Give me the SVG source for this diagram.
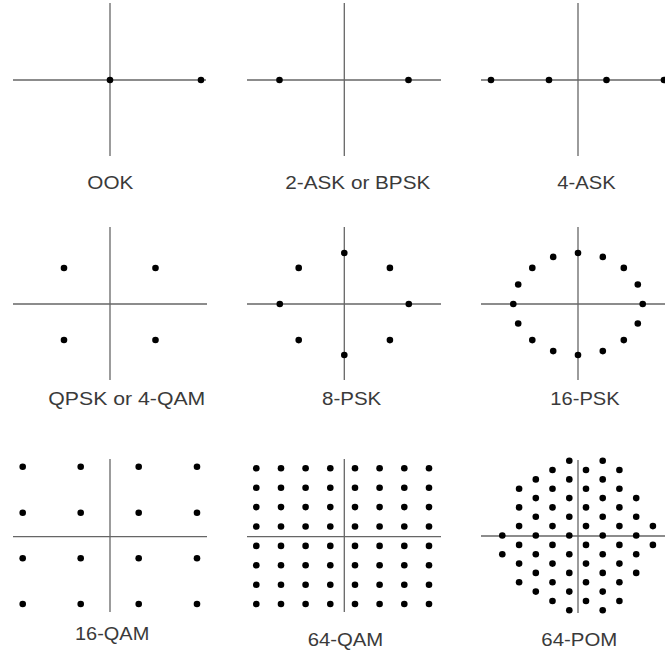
<svg xmlns="http://www.w3.org/2000/svg" xmlns:xlink="http://www.w3.org/1999/xlink" width="665" height="656" viewBox="0 0 665 656">
<style>
.ax{stroke:#666;stroke-width:1.3;fill:none}
.lb{font-family:"Liberation Sans",Arial,sans-serif;font-size:18px;fill:#3a3a3a}
</style>
<defs><circle id="d" r="3.3" fill="#000"/></defs>
<rect width="665" height="656" fill="#fff"/>
<g id="ook">
<line class="ax" x1="13" y1="80" x2="206" y2="80"/><line class="ax" x1="110" y1="3" x2="110" y2="156"/>
<use href="#d" x="110" y="80"/><use href="#d" x="201" y="80"/>
<text class="lb" x="87.3" y="189" textLength="46" lengthAdjust="spacingAndGlyphs">OOK</text>
</g>
<g id="ask2">
<line class="ax" x1="247" y1="80" x2="441" y2="80"/><line class="ax" x1="344.3" y1="3" x2="344.3" y2="156"/>
<use href="#d" x="279.5" y="80"/><use href="#d" x="408.5" y="80"/>
<text class="lb" x="285.3" y="188.5" textLength="145" lengthAdjust="spacingAndGlyphs">2-ASK or BPSK</text>
</g>
<g id="ask4">
<line class="ax" x1="481" y1="80" x2="665" y2="80"/><line class="ax" x1="578" y1="3" x2="578" y2="156"/>
<use href="#d" x="491" y="80"/><use href="#d" x="549" y="80"/><use href="#d" x="606.5" y="80"/><use href="#d" x="664" y="80"/>
<text class="lb" x="557.3" y="188.5" textLength="58.4" lengthAdjust="spacingAndGlyphs">4-ASK</text>
</g>
<g id="qpsk">
<line class="ax" x1="13" y1="304" x2="207" y2="304"/><line class="ax" x1="110" y1="227" x2="110" y2="380"/>
<use href="#d" x="64" y="268"/><use href="#d" x="155.5" y="268"/><use href="#d" x="64" y="340"/><use href="#d" x="155.5" y="340"/>
<text class="lb" x="48.3" y="404.5" textLength="157" lengthAdjust="spacingAndGlyphs">QPSK or 4-QAM</text>
</g>
<g id="psk8">
<line class="ax" x1="247" y1="304" x2="441" y2="304"/><line class="ax" x1="344.3" y1="227" x2="344.3" y2="380"/>
<use href="#d" x="408.8" y="304"/><use href="#d" x="389.9" y="267.9"/><use href="#d" x="344.3" y="253"/><use href="#d" x="298.7" y="267.9"/>
<use href="#d" x="279.8" y="304"/><use href="#d" x="298.7" y="340.1"/><use href="#d" x="344.3" y="355"/><use href="#d" x="389.9" y="340.1"/>
<text class="lb" x="322" y="405" textLength="59.3" lengthAdjust="spacingAndGlyphs">8-PSK</text>
</g>
<g id="psk16">
<line class="ax" x1="481" y1="304" x2="665" y2="304"/><line class="ax" x1="578" y1="227" x2="578" y2="380"/>
<use href="#d" x="642.7" y="304"/><use href="#d" x="637.8" y="284.5"/><use href="#d" x="623.8" y="267.9"/><use href="#d" x="602.8" y="256.9"/>
<use href="#d" x="578" y="253"/><use href="#d" x="553.2" y="256.9"/><use href="#d" x="532.3" y="267.9"/><use href="#d" x="518.2" y="284.5"/>
<use href="#d" x="513.3" y="304"/><use href="#d" x="518.2" y="323.5"/><use href="#d" x="532.3" y="340.1"/><use href="#d" x="553.2" y="351.1"/>
<use href="#d" x="578" y="355"/><use href="#d" x="602.8" y="351.1"/><use href="#d" x="623.8" y="340.1"/><use href="#d" x="637.8" y="323.5"/>
<text class="lb" x="550.3" y="405" textLength="69.4" lengthAdjust="spacingAndGlyphs">16-PSK</text>
</g>
<g id="qam16">
<line class="ax" x1="13" y1="536.7" x2="207" y2="536.7"/><line class="ax" x1="110" y1="459" x2="110" y2="612"/>
<use href="#d" x="22.7" y="466.7"/><use href="#d" x="80.7" y="466.7"/><use href="#d" x="138.7" y="466.7"/><use href="#d" x="197" y="466.7"/>
<use href="#d" x="22.7" y="512.7"/><use href="#d" x="80.7" y="512.7"/><use href="#d" x="138.7" y="512.7"/><use href="#d" x="197" y="512.7"/>
<use href="#d" x="22.7" y="558.3"/><use href="#d" x="80.7" y="558.3"/><use href="#d" x="138.7" y="558.3"/><use href="#d" x="197" y="558.3"/>
<use href="#d" x="22.7" y="604"/><use href="#d" x="80.7" y="604"/><use href="#d" x="138.7" y="604"/><use href="#d" x="197" y="604"/>
<text class="lb" x="75" y="639.5" textLength="74.3" lengthAdjust="spacingAndGlyphs">16-QAM</text>
</g>
<g id="qam64">
<line class="ax" x1="247" y1="536.7" x2="441" y2="536.7"/><line class="ax" x1="344.3" y1="459" x2="344.3" y2="612"/>
<g id="qrow">
<use href="#d" x="256.3" y="468.3"/><use href="#d" x="281" y="468.3"/><use href="#d" x="305.6" y="468.3"/><use href="#d" x="330.3" y="468.3"/>
<use href="#d" x="355" y="468.3"/><use href="#d" x="379.6" y="468.3"/><use href="#d" x="404.3" y="468.3"/><use href="#d" x="429" y="468.3"/>
</g>
<use href="#qrow" y="19.4"/><use href="#qrow" y="38.8"/><use href="#qrow" y="58.2"/><use href="#qrow" y="77.6"/>
<use href="#qrow" y="97"/><use href="#qrow" y="116.4"/><use href="#qrow" y="135.7"/>
<text class="lb" x="307.7" y="646" textLength="75.6" lengthAdjust="spacingAndGlyphs">64-QAM</text>
</g>
<g id="pom64">
<line class="ax" x1="481" y1="536" x2="665" y2="536"/><line class="ax" x1="578" y1="460" x2="578" y2="613"/>
<use href="#d" x="502.3" y="535.5"/><use href="#d" x="502.3" y="554.2"/>
<use href="#d" x="519.1" y="488.7"/><use href="#d" x="519.1" y="507.4"/><use href="#d" x="519.1" y="526.1"/><use href="#d" x="519.1" y="544.9"/><use href="#d" x="519.1" y="563.6"/><use href="#d" x="519.1" y="582.3"/>
<use href="#d" x="535.8" y="479.4"/><use href="#d" x="535.8" y="498.1"/><use href="#d" x="535.8" y="516.8"/><use href="#d" x="535.8" y="535.5"/><use href="#d" x="535.8" y="554.2"/><use href="#d" x="535.8" y="572.9"/><use href="#d" x="535.8" y="591.6"/>
<g id="odd">
<use href="#d" x="552.5" y="470"/><use href="#d" x="552.5" y="488.7"/><use href="#d" x="552.5" y="507.4"/><use href="#d" x="552.5" y="526.1"/><use href="#d" x="552.5" y="544.9"/><use href="#d" x="552.5" y="563.6"/><use href="#d" x="552.5" y="582.3"/><use href="#d" x="552.5" y="601"/>
</g>
<use href="#odd" x="33.5"/><use href="#odd" x="66.9"/>
<g id="even">
<use href="#d" x="569.3" y="460.7"/><use href="#d" x="569.3" y="479.4"/><use href="#d" x="569.3" y="498.1"/><use href="#d" x="569.3" y="516.8"/><use href="#d" x="569.3" y="535.5"/><use href="#d" x="569.3" y="554.2"/><use href="#d" x="569.3" y="572.9"/><use href="#d" x="569.3" y="591.6"/><use href="#d" x="569.3" y="610.3"/>
</g>
<use href="#even" x="33.4"/>
<use href="#d" x="636.2" y="498.1"/><use href="#d" x="636.2" y="516.8"/><use href="#d" x="636.2" y="535.5"/><use href="#d" x="636.2" y="554.2"/><use href="#d" x="636.2" y="572.9"/>
<use href="#d" x="652.9" y="526.1"/><use href="#d" x="652.9" y="544.9"/>
<text class="lb" x="541.3" y="646" textLength="76" lengthAdjust="spacingAndGlyphs">64-POM</text>
</g>
</svg>
